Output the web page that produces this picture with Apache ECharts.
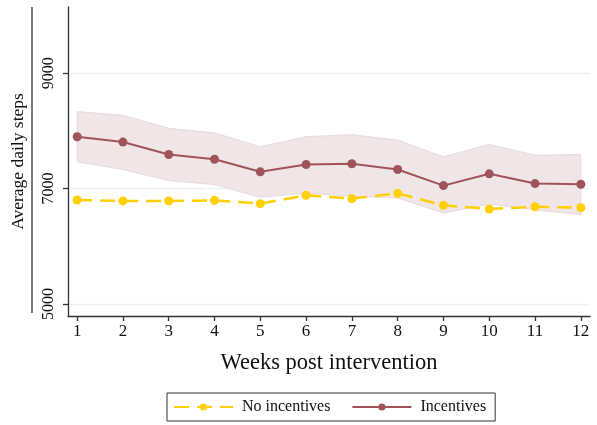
<!DOCTYPE html>
<html>
<head>
<meta charset="utf-8">
<script src="https://cdn.jsdelivr.net/npm/echarts@6/dist/echarts.min.js"></script>
<style>
  html, body { margin: 0; padding: 0; background: #fff; }
  #chart { width: 597px; height: 425px; }
</style>
</head>
<body>
<div id="chart"></div>
<script>
// Weekly average daily steps after the intervention
const weeks = [1, 2, 3, 4, 5, 6, 7, 8, 9, 10, 11, 12];
const noIncentives = [6803, 6786, 6786, 6796, 6739, 6883, 6826, 6918, 6709, 6646, 6686, 6669];
const incentives = [7900, 7807, 7592, 7510, 7291, 7418, 7430, 7331, 7052, 7256, 7087, 7075];
// 95% confidence band for the incentives group
const incentivesUpper = [8336, 8272, 8045, 7967, 7726, 7901, 7935, 7841, 7552, 7766, 7580, 7592];
const incentivesLower = [7465, 7331, 7139, 7070, 6848, 6922, 6869, 6838, 6577, 6733, 6634, 6547];
const yTicks = [5000, 7000, 9000];

const serif = '"Liberation Serif", "DejaVu Serif", serif';
const gold = '#FFCF00';
const cranberry = '#A0545A';
const bandFill = '#F0E5E7';
const bandEdge = '#E8D9DC';

const pairs = (ys) => weeks.map((w, i) => [w, ys[i]]);
const bandRows = weeks.map((w, i) => [w, incentivesLower[i], incentivesUpper[i]]);

// Confidence band: one closed polygon along the upper edge and back along the lower edge
function renderBand(params, api) {
  if (params.dataIndex !== 0) return null;
  const top = bandRows.map(r => api.coord([r[0], r[2]]));
  const bottom = bandRows.map(r => api.coord([r[0], r[1]])).reverse();
  return {
    type: 'polygon',
    shape: { points: top.concat(bottom) },
    style: { fill: bandFill, stroke: bandEdge, lineWidth: 1 },
    silent: true
  };
}

const chart = echarts.init(document.getElementById('chart'), null, { renderer: 'canvas' });
chart.setOption({
  animation: false,
  backgroundColor: '#fff',
  grid: { left: 68, right: 7, top: 7, bottom: 109, containLabel: false, outerBoundsMode: 'none' },
  xAxis: {
    type: 'value',
    min: 0.8,
    max: 12.2,
    name: 'Weeks post intervention',
    nameLocation: 'middle',
    nameGap: 36,
    nameTextStyle: { fontFamily: serif, fontSize: 22.5, color: '#111' },
    axisLine: { show: true, onZero: false, lineStyle: { color: '#333', width: 1.3 } },
    axisTick: { show: true, length: 5, customValues: weeks, lineStyle: { color: '#333', width: 1.3 } },
    axisLabel: { customValues: weeks, fontFamily: serif, fontSize: 17, color: '#111', margin: 7 },
    splitLine: { show: false }
  },
  yAxis: {
    type: 'value',
    min: 4790,
    max: 10150,
    name: 'Average daily steps',
    nameLocation: 'middle',
    nameGap: 41,
    nameTextStyle: { fontFamily: serif, fontSize: 17.5, color: '#111' },
    axisLine: { show: true, lineStyle: { color: '#333', width: 1.3 } },
    axisTick: { show: true, length: 5, customValues: yTicks, lineStyle: { color: '#333', width: 1.3 } },
    axisLabel: {
      customValues: yTicks,
      rotate: 90,
      fontFamily: serif,
      fontSize: 16,
      color: '#111',
      margin: 11,
      formatter: (v) => String(v)
    },
    splitLine: { show: true, lineStyle: { color: '#EAF2F3', width: 1.3 } }
  },
  legend: {
    left: 167,
    top: 393,
    orient: 'horizontal',
    data: ['No incentives', 'Incentives'],
    borderColor: '#333',
    borderWidth: 1,
    borderRadius: 0,
    padding: [6, 9, 6, 6],
    itemGap: 21,
    itemWidth: 59,
    itemHeight: 9,
    textStyle: { fontFamily: serif, fontSize: 16, color: '#111', padding: [0, 0, 0, 4] }
  },
  series: [
    {
      name: 'band',
      type: 'custom',
      renderItem: renderBand,
      data: bandRows,
      encode: { x: 0, y: [1, 2] },
      silent: true,
      z: 1
    },
    {
      name: 'Incentives',
      type: 'line',
      data: pairs(incentives),
      symbol: 'circle',
      symbolSize: 9,
      itemStyle: { color: cranberry },
      lineStyle: { color: cranberry, width: 2 },
      z: 3
    },
    {
      name: 'No incentives',
      type: 'line',
      data: pairs(noIncentives),
      symbol: 'circle',
      symbolSize: 9,
      itemStyle: { color: gold },
      lineStyle: { color: gold, width: 2.5, type: [15, 8] },
      z: 4
    }
  ],
  graphic: [
    {
      type: 'line',
      shape: { x1: 32, y1: 7, x2: 32, y2: 313 },
      style: { stroke: '#333', lineWidth: 1.3 }
    }
  ]
});
</script>
</body>
</html>
